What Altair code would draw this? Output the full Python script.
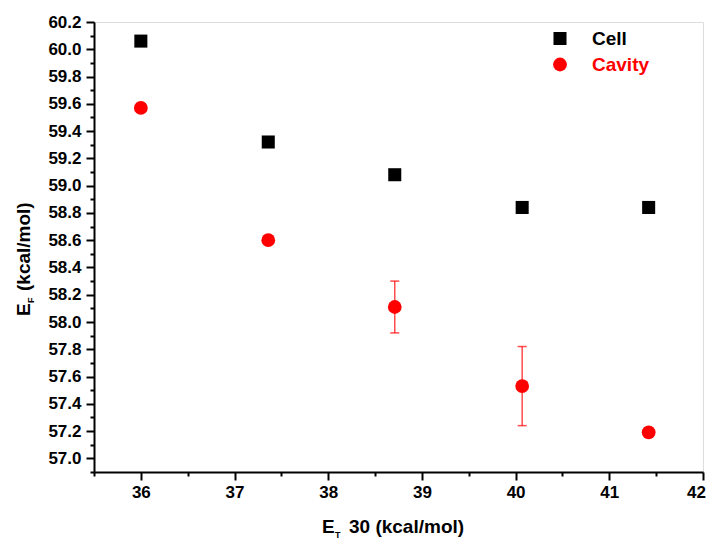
import altair as alt
import pandas as pd

# ---- data ----
et30 = [36.0, 37.36, 38.71, 40.07, 41.42]
cell_ef = [60.06, 59.32, 59.08, 58.84, 58.84]
cavity_ef = [59.57, 58.60, 58.11, 57.53, 57.19]
cavity_err = [0.0, 0.0, 0.19, 0.29, 0.0]

series_names = ["Cell", "Cavity"]
series_colors = ["black", "red"]

x_ticks = [35.5 + 0.5 * i for i in range(14)]
y_ticks = [round(56.9 + 0.1 * i, 1) for i in range(34)]

FONT = "Liberation Sans"

cell_df = pd.DataFrame({"x": et30, "y": cell_ef})
cav_df = pd.DataFrame({"x": et30, "y": cavity_ef, "err": cavity_err})
cav_df["lo"] = cav_df["y"] - cav_df["err"]
cav_df["hi"] = cav_df["y"] + cav_df["err"]
err_df = cav_df[cav_df["err"] > 0]

xscale = alt.Scale(domain=[35.5, 42], nice=False, zero=False)
yscale = alt.Scale(domain=[56.9, 60.2], nice=False, zero=False)

x_axis = alt.Axis(
    values=x_ticks,
    labelExpr="round(datum.value*2) % 2 === 0 ? format(datum.value, 'd') : ''",
    tickSize={"condition": {"test": "round(datum.value*2) % 2 === 1", "value": 4}, "value": 8},
    labelOffset={"condition": {"test": "datum.value >= 42", "value": -7}, "value": 0},
    grid=False, title=None, domainColor="black", domainWidth=2,
    tickColor="black", tickWidth=2, labelFont=FONT, labelFontSize=17,
    labelFontWeight="bold", labelColor="black", labelPadding=4,
    labelFlush=False, labelOverlap=False,
)
y_axis = alt.Axis(
    values=y_ticks,
    labelExpr="round(datum.value*10) % 2 === 0 ? format(datum.value, '.1f') : ''",
    tickSize={"condition": {"test": "round(datum.value*10) % 2 === 1", "value": 4}, "value": 8},
    grid=False, title=None, domainColor="black", domainWidth=2,
    tickColor="black", tickWidth=2, labelFont=FONT, labelFontSize=17,
    labelFontWeight="bold", labelColor="black", labelPadding=5,
    labelFlush=False, labelOverlap=False,
)

def XE(field):
    return alt.X(field, type="quantitative", scale=xscale, axis=x_axis, title=None)

def YE(field):
    return alt.Y(field, type="quantitative", scale=yscale, axis=y_axis, title=None)

cell = alt.Chart(cell_df).mark_point(
    shape="square", filled=True, size=170, color="black", opacity=1
).encode(x=XE("x"), y=YE("y"))

err_rule = alt.Chart(err_df).mark_rule(color="red", opacity=0.7, strokeWidth=1.5).encode(
    x=XE("x"), y=YE("lo"), y2="hi:Q",
)
cap_lo = alt.Chart(err_df).mark_tick(color="red", opacity=0.7, thickness=1.5, size=9, orient="horizontal").encode(
    x=XE("x"), y=YE("lo"),
)
cap_hi = alt.Chart(err_df).mark_tick(color="red", opacity=0.7, thickness=1.5, size=9, orient="horizontal").encode(
    x=XE("x"), y=YE("hi"),
)

cav = alt.Chart(cav_df).mark_point(
    shape="circle", filled=True, size=190, color="red", opacity=1
).encode(x=XE("x"), y=YE("y"))

# ---- legend (decoration) ----
leg_df = pd.DataFrame({"name": series_names, "color": series_colors})
leg_sym_cell = alt.Chart(leg_df.iloc[[0]]).mark_point(shape="square", filled=True, size=170, color="black", opacity=1).encode(
    x=alt.value(466), y=alt.value(16.5))
leg_sym_cav = alt.Chart(leg_df.iloc[[1]]).mark_point(shape="circle", filled=True, size=190, color="red", opacity=1).encode(
    x=alt.value(466), y=alt.value(42.5))
leg_txt_cell = alt.Chart(leg_df.iloc[[0]]).mark_text(
    align="left", baseline="middle", font=FONT, fontSize=19, fontWeight="bold", color="black"
).encode(text="name:N", x=alt.value(498), y=alt.value(16.5))
leg_txt_cav = alt.Chart(leg_df.iloc[[1]]).mark_text(
    align="left", baseline="middle", font=FONT, fontSize=19, fontWeight="bold", color="red"
).encode(text="name:N", x=alt.value(498), y=alt.value(42.5))

# ---- axis titles with subscripts ----
def txt(s, x, y, size, angle=0, align="left", baseline="alphabetic"):
    d = pd.DataFrame({"t": [s]})
    kw = dict(align=align, baseline=baseline, font=FONT, fontSize=size, fontWeight="bold", color="black")
    if angle:
        kw["angle"] = angle
    return alt.Chart(d).mark_text(**kw).encode(text="t:N", x=alt.value(x), y=alt.value(y))

xt_E = txt("E", 228, 511, 19)
xt_T = txt("T", 241, 515.5, 9)
xt_rest = txt("30 (kcal/mol)", 255, 511, 19)

yt_E = txt("E", -64, 294, 19, angle=270)
yt_F = txt("F", -60, 281, 9, angle=270)
yt_rest = txt("(kcal/mol)", -64, 269, 19, angle=270)

chart = alt.layer(
    cell, err_rule, cap_lo, cap_hi, cav,
    leg_sym_cell, leg_sym_cav, leg_txt_cell, leg_txt_cav,
    xt_E, xt_T, xt_rest, yt_E, yt_F, yt_rest,
).properties(
    width=609, height=450,
    autosize=alt.AutoSizeParams(type="none"),
    padding={"left": 86, "top": 14, "right": 4, "bottom": 66},
).configure_view(strokeWidth=0, stroke="transparent").configure(background="white")

chart.save("out.html", embed_options={"renderer": "svg", "actions": False})
